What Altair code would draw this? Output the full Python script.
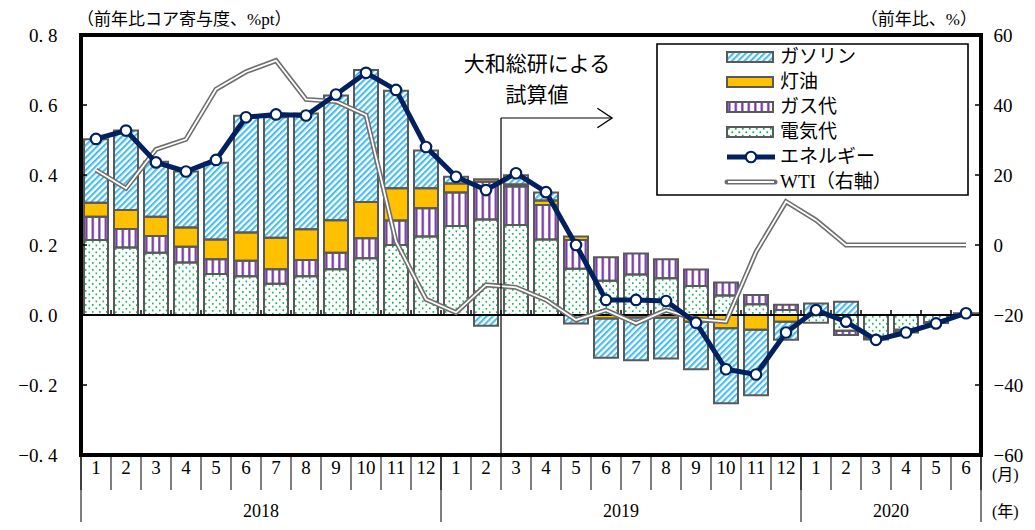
import altair as alt
import pandas as pd
from urllib.parse import quote

# ---------------- data ----------------
months = [str(m) for m in range(1, 13)] + [str(m) for m in range(1, 13)] + [str(m) for m in range(1, 7)]
years = ["2018"] * 12 + ["2019"] * 12 + ["2020"] * 6

electricity = [0.214, 0.193, 0.178, 0.150, 0.117, 0.111, 0.089, 0.111, 0.131, 0.162, 0.200, 0.224,
               0.254, 0.273, 0.257, 0.216, 0.132, 0.098, 0.116, 0.105, 0.083, 0.056, 0.031, 0.014,
               -0.022, -0.045, -0.062, -0.042, -0.020, 0.005]
gas = [0.067, 0.053, 0.048, 0.045, 0.042, 0.044, 0.042, 0.046, 0.047, 0.057, 0.070, 0.081,
       0.096, 0.108, 0.110, 0.098, 0.082, 0.067, 0.060, 0.054, 0.047, 0.037, 0.026, 0.015,
       0.0, -0.012, -0.004, -0.003, 0.0, 0.0]
kerosene = [0.040, 0.054, 0.055, 0.055, 0.057, 0.081, 0.090, 0.088, 0.093, 0.104, 0.092, 0.057,
            0.026, 0.007, 0.006, 0.013, 0.010, -0.010, -0.007, -0.008, -0.019, -0.038, -0.042, -0.019,
            0.0, 0.0, 0.0, 0.0, 0.0, 0.0]
gasoline = [0.181, 0.227, 0.157, 0.160, 0.219, 0.333, 0.344, 0.331, 0.356, 0.377, 0.279, 0.108,
            0.019, -0.031, 0.026, 0.023, -0.024, -0.112, -0.122, -0.116, -0.136, -0.214, -0.187, -0.052,
            0.033, 0.038, -0.004, -0.005, -0.003, 0.0]
energy = [0.503, 0.527, 0.436, 0.410, 0.443, 0.565, 0.573, 0.570, 0.630, 0.692, 0.643, 0.480,
          0.395, 0.357, 0.405, 0.351, 0.200, 0.043, 0.043, 0.040, -0.022, -0.155, -0.170, -0.050,
          0.014, -0.019, -0.071, -0.050, -0.024, 0.005]
wti = [21.4, 16.2, 27.3, 30.2, 44.5, 49.5, 52.7, 41.6, 41.0, 37.1, 1.0, -15.5,
       -19.3, -11.4, -12.1, -15.7, -21.4, -18.6, -22.4, -18.6, -21.2, -21.9, -2.0, 12.4,
       7.1, 0.0, 0.0, 0.0, 0.0, 0.0]

series_names = ["電気代", "ガス代", "灯油", "ガソリン"]
legend_labels = ["ガソリン", "灯油", "ガス代", "電気代", "エネルギー", "WTI（右軸）"]
left_ticks = [-0.4, -0.2, 0.0, 0.2, 0.4, 0.6, 0.8]
right_ticks = [-60, -40, -20, 0, 20, 40, 60]
estimate_start_index = 14  # 2019-3

# ---------------- styles ----------------
JPF = "Liberation Serif, Noto Sans CJK JP"
NUMF = "Liberation Serif"
NAVY = "#002060"
BARSTROKE = "#595959"
KERO = "#FFC000"


def svg_url(svg):
    return "data:image/svg+xml," + quote(svg)


pat_gasoline = svg_url(
    "<svg xmlns='http://www.w3.org/2000/svg' width='100%' height='100%'>"
    "<defs><pattern id='p' width='4.4' height='4.4' patternUnits='userSpaceOnUse' patternTransform='rotate(45)'>"
    "<rect width='4.4' height='4.4' fill='#ffffff'/><rect width='2.1' height='4.4' fill='#45BDF0'/>"
    "</pattern></defs><rect width='100%' height='100%' fill='url(#p)'/></svg>")
pat_gas = svg_url(
    "<svg xmlns='http://www.w3.org/2000/svg' width='100%' height='100%'>"
    "<defs><pattern id='p' width='6.5' height='10' patternUnits='userSpaceOnUse'>"
    "<rect width='6.5' height='10' fill='#ffffff'/><rect x='1.2' width='2.2' height='10' fill='#7030A0'/>"
    "</pattern></defs><rect width='100%' height='100%' fill='url(#p)'/></svg>")
pat_elec = svg_url(
    "<svg xmlns='http://www.w3.org/2000/svg' width='100%' height='100%'>"
    "<defs><pattern id='p' width='7' height='7' patternUnits='userSpaceOnUse'>"
    "<rect width='7' height='7' fill='#ffffff'/><circle cx='1.8' cy='1.8' r='0.95' fill='#00B050'/>"
    "<circle cx='5.3' cy='5.3' r='0.95' fill='#00B050'/>"
    "</pattern></defs><rect width='100%' height='100%' fill='url(#p)'/></svg>")
pattern_for = {"ガソリン": pat_gasoline, "ガス代": pat_gas, "電気代": pat_elec, "灯油": ""}

# ---------------- tables ----------------
rows = []
for i in range(len(months)):
    for k, (name, arr) in enumerate(zip(series_names, [electricity, gas, kerosene, gasoline])):
        rows.append({"idx": i, "series": name, "order": k, "value": arr[i],
                     "url": pattern_for[name]})
df = pd.DataFrame(rows)
df_line = pd.DataFrame({"idx": list(range(len(months))), "energy": energy, "wti": wti,
                        "m": months, "year": years})

xs = alt.Scale(domain=[-0.5, len(months) - 0.5], nice=False, zero=False)
ys_left = alt.Scale(domain=[-0.4, 0.8], nice=False, zero=False)
ys_right = alt.Scale(domain=[-60, 60], nice=False, zero=False)

left_axis = alt.Axis(values=left_ticks, labelExpr="replace(format(datum.value, '.1f'), '.', '. ')",
                     ticks=False, domain=False, grid=False, labelFont=NUMF, labelFontSize=19,
                     labelColor="black", labelPadding=24, title=None)
right_axis = alt.Axis(orient="right", values=right_ticks, format="d", ticks=False, domain=False,
                      grid=False, labelFont=NUMF, labelFontSize=19, labelColor="black",
                      labelPadding=12, title=None)


def YL(field):
    return alt.Y(field, scale=ys_left, axis=left_axis)


def YR(field):
    return alt.Y(field, scale=ys_right, axis=right_axis)


def X(field):
    return alt.X(field, scale=xs, axis=None)


# ---------------- bars (left axis) ----------------
base = (alt.Chart(df)
        .transform_filter("datum.value != 0")
        .transform_stack(stack="value", groupby=["idx"], sort=[alt.SortField("order", order="ascending")],
                         as_=["v0", "v1"], offset="zero")
        .transform_calculate(x0="datum.idx - 0.4", x1="datum.idx + 0.4"))

bar_images = base.transform_filter("datum.series != '灯油'").mark_image(aspect=False).encode(
    x=X("x0:Q"), x2="x1:Q", y=YL("v0:Q"), y2="v1:Q", url="url:N")
bar_kero = base.transform_filter("datum.series == '灯油'").mark_rect(fill=KERO).encode(
    x=X("x0:Q"), x2="x1:Q", y=YL("v0:Q"), y2="v1:Q")
bar_outline = base.mark_rect(fill="#ffffff", fillOpacity=0, stroke=BARSTROKE, strokeWidth=2).encode(
    x=X("x0:Q"), x2="x1:Q", y=YL("v0:Q"), y2="v1:Q")

zero_df = pd.DataFrame({"z": [0.0]})
zero_line = alt.Chart(zero_df).mark_rule(color="black", strokeWidth=2).encode(
    y=YL("z:Q"), x=alt.value(0), x2=alt.value(900))
bounds_df = pd.DataFrame({"b": [i + 0.5 for i in range(len(months) - 1)], "z": 0.0})
zero_ticks = alt.Chart(bounds_df).mark_rule(color="black", strokeWidth=1.5, y2Offset=-5).encode(
    x=X("b:Q"), y=YL("z:Q"), y2="z:Q")
lt_df = pd.DataFrame({"t": [v for v in left_ticks if v not in (-0.4, 0.0, 0.8)]})
left_inticks = alt.Chart(lt_df).mark_rule(color="black", strokeWidth=1.5).encode(
    y=YL("t:Q"), x=alt.value(0), x2=alt.value(6))

group_bars = alt.layer(bar_images, bar_kero, bar_outline, zero_line, zero_ticks, left_inticks)

# ---------------- WTI (right axis) ----------------
wti_outer = alt.Chart(df_line).mark_line(color="#6E6E6E", strokeWidth=5).encode(x=X("idx:Q"), y=YR("wti:Q"))
wti_inner = alt.Chart(df_line).mark_line(color="#ffffff", strokeWidth=1.8).encode(x=X("idx:Q"), y=YR("wti:Q"))
rt_df = pd.DataFrame({"t": [v for v in right_ticks if v not in (-60, 60)]})
right_inticks = alt.Chart(rt_df).mark_rule(color="black", strokeWidth=1.5).encode(
    y=YR("t:Q"), x=alt.value(894), x2=alt.value(900))
group_wti = alt.layer(wti_outer, wti_inner, right_inticks)

# ---------------- energy (left scale, drawn on top) ----------------
ys_left2 = alt.Scale(domain=[-0.4, 0.8], nice=False, zero=False)
en_line = alt.Chart(df_line).mark_line(color=NAVY, strokeWidth=5).encode(
    x=X("idx:Q"), y=alt.Y("energy:Q", scale=ys_left2, axis=None))
en_pts = alt.Chart(df_line).mark_point(filled=True, fill="#ffffff", stroke=NAVY, strokeWidth=2.2,
                                       size=110, opacity=1).encode(
    x=X("idx:Q"), y=alt.Y("energy:Q", scale=ys_left2, axis=None))
group_energy = alt.layer(en_line, en_pts)

# ---------------- category axis (custom) ----------------
month_text = alt.Chart(df_line).mark_text(font=NUMF, fontSize=19, color="black", baseline="middle").encode(
    x=X("idx:Q"), y=alt.value(433), text="m:N")
year_pos = df_line.groupby("year", as_index=False)["idx"].mean()
year_text = alt.Chart(year_pos).mark_text(font=NUMF, fontSize=18, color="black", baseline="middle").encode(
    x=X("idx:Q"), y=alt.value(477), text="year:N")
mdiv = alt.Chart(pd.DataFrame({"b": [i - 0.5 for i in range(len(months) + 1)]})).mark_rule(
    color="black", strokeWidth=1).encode(x=X("b:Q"), y=alt.value(420), y2=alt.value(455))
ybounds = [-0.5] + [i - 0.5 for i in range(1, len(years)) if years[i] != years[i - 1]] + [len(years) - 0.5]
ydiv = alt.Chart(pd.DataFrame({"b": ybounds})).mark_rule(color="black", strokeWidth=1).encode(
    x=X("b:Q"), y=alt.value(420), y2=alt.value(487))


def ptext(t, x, y, size, align="left"):
    return alt.Chart(pd.DataFrame({"t": [t]})).mark_text(
        align=align, baseline="middle", fontSize=size, font=JPF, color="black").encode(
        x=alt.value(x), y=alt.value(y), text="t:N")


unit_m = ptext("(月)", 911, 440, 16)
unit_y = ptext("(年)", 911, 477, 16)
title_l = ptext("（前年比コア寄与度、%pt）", -4, -15, 17)
title_r = ptext("（前年比、%）", 896, -15, 17, align="right")

# ---------------- estimate annotation ----------------
est_b = estimate_start_index - 0.5
est_df = pd.DataFrame({"b": [est_b], "e": [est_b + 3.7]})
est_vline = alt.Chart(est_df).mark_rule(color="black", strokeWidth=1.2).encode(
    x=X("b:Q"), y=alt.value(83), y2=alt.value(420))
est_hline = alt.Chart(est_df).mark_rule(color="black", strokeWidth=1.2).encode(
    x=X("b:Q"), x2="e:Q", y=alt.value(83))
est_head = alt.Chart(est_df).mark_point(shape="M-1.5,-1L0,0L-1.5,1", filled=False, size=380,
                                        color="black", strokeWidth=1.4, opacity=1).encode(
    x=X("e:Q"), y=alt.value(83))
est_t1 = ptext("大和総研による", 456, 30, 21, align="center")
est_t2 = ptext("試算値", 456, 61, 21, align="center")

# ---------------- legend ----------------
leg_layers = [alt.Chart(pd.DataFrame({"a": [0]})).mark_rect(fill="#ffffff", stroke="black", strokeWidth=1.6).encode(
    x=alt.value(576), x2=alt.value(887), y=alt.value(9), y2=alt.value(160))]
sym_x0, sym_x1 = 646, 692
for i, lab in enumerate(legend_labels):
    py = 22 + 25 * i
    one = alt.Chart(pd.DataFrame({"a": [0]}))
    if lab in ("ガソリン", "ガス代", "電気代"):
        leg_layers.append(one.mark_image(aspect=False).encode(
            x=alt.value(sym_x0), x2=alt.value(sym_x1), y=alt.value(py - 5), y2=alt.value(py + 5),
            url=alt.value(pattern_for[lab])))
        leg_layers.append(one.mark_rect(fill="#ffffff", fillOpacity=0, stroke=BARSTROKE, strokeWidth=2).encode(
            x=alt.value(sym_x0), x2=alt.value(sym_x1), y=alt.value(py - 5), y2=alt.value(py + 5)))
    elif lab == "灯油":
        leg_layers.append(one.mark_rect(fill=KERO, stroke=BARSTROKE, strokeWidth=2).encode(
            x=alt.value(sym_x0), x2=alt.value(sym_x1), y=alt.value(py - 5), y2=alt.value(py + 5)))
    elif lab == "エネルギー":
        leg_layers.append(one.mark_rule(color=NAVY, strokeWidth=5).encode(
            x=alt.value(sym_x0), x2=alt.value(sym_x1 + 2), y=alt.value(py)))
        leg_layers.append(one.mark_point(filled=True, fill="#ffffff", stroke=NAVY, strokeWidth=2.2,
                                         size=110, opacity=1).encode(
            x=alt.value((sym_x0 + sym_x1) / 2 + 1), y=alt.value(py)))
    else:
        leg_layers.append(one.mark_rule(color="#6E6E6E", strokeWidth=5, strokeCap="round").encode(
            x=alt.value(sym_x0), x2=alt.value(sym_x1 + 2), y=alt.value(py)))
        leg_layers.append(one.mark_rule(color="#ffffff", strokeWidth=1.8).encode(
            x=alt.value(sym_x0 + 1), x2=alt.value(sym_x1 + 1), y=alt.value(py)))
    leg_layers.append(ptext(lab, 699, py, 19))

group_annot = alt.layer(month_text, year_text, mdiv, ydiv, unit_m, unit_y, title_l, title_r,
                        est_vline, est_hline, est_head, est_t1, est_t2, *leg_layers)

chart = (alt.layer(group_bars, group_wti, group_energy, group_annot)
         .resolve_scale(y="independent")
         .properties(width=900, height=420, padding={"left": 73, "top": 27, "right": 46, "bottom": 67},
                     autosize=alt.AutoSizeParams(type="none"), background="#ffffff")
         .configure_view(stroke="black", strokeWidth=4))

chart.save("out.html", embed_options={"renderer": "svg", "actions": False})
